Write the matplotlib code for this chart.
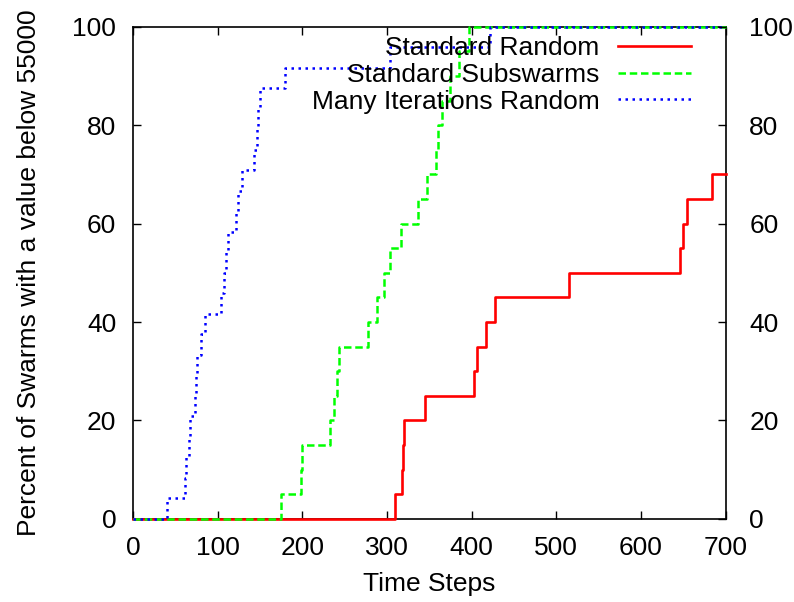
import matplotlib
matplotlib.use("Agg")
import matplotlib.pyplot as plt

plt.rcParams['font.family'] = ['Liberation Sans', 'DejaVu Sans']

# time step at which each swarm got below 55000, and the running percentage
red_t = [310, 318, 319, 320, 345, 403, 406, 417, 428, 515, 646, 649, 654, 684]
red_pct = [5, 10, 15, 20, 25, 30, 35, 40, 45, 50, 55, 60, 65, 70]

green_t = [175, 199, 200, 233, 237, 241, 243, 277, 288, 297, 303, 316, 336, 347,
           358, 360, 365, 374, 385, 397]
green_pct = [5, 10, 15, 20, 25, 30, 35, 40, 45, 50, 55, 60, 65, 70,
             75, 80, 85, 90, 95, 100]

blue_t = [40, 62, 63, 66, 67, 73, 74, 75, 80, 85, 104, 107, 110, 112, 122, 124,
          129, 143, 146, 148, 150, 179, 303, 422]
blue_pct = [4.17, 8.33, 12.5, 16.67, 20.83, 25, 29.17, 33.33, 37.5, 41.67, 45.83,
            50, 54.17, 58.33, 62.5, 66.67, 70.83, 75, 79.17, 83.33, 87.5, 91.67,
            95.83, 100]

labels = ['Standard Random', 'Standard Subswarms', 'Many Iterations Random']
x_max = 700

fig = plt.figure(figsize=(7.94, 6.02), dpi=100)
ax = fig.add_axes([0.1675, 0.138, 0.7465, 0.8175])

def steps(t, p):
    return [0] + t + [x_max], [0] + p + [p[-1]]

x, y = steps(red_t, red_pct)
ax.plot(x, y, drawstyle='steps-post', color='#ff0000', lw=1.9,
        label=labels[0], clip_on=False, zorder=3)
x, y = steps(green_t, green_pct)
ax.plot(x, y, drawstyle='steps-post', color='#00ff00', lw=1.8,
        dashes=(3, 1.5), label=labels[1], clip_on=False, zorder=4)
x, y = steps(blue_t, blue_pct)
ax.plot(x, y, drawstyle='steps-post', color='#0000ff', lw=1.8,
        dashes=(1, 1.8), label=labels[2], clip_on=False, zorder=5)

ax.set_xlim(0, x_max)
ax.set_ylim(0, 100)
ax.set_xticks(range(0, 701, 100))
ax.set_yticks(range(0, 101, 20))
ax.tick_params(direction='in', top=True, right=True, labelright=False,
               length=6, width=1, labelsize=19, pad=12)
for s in ax.spines.values():
    s.set_linewidth(1.2)

# right hand labels sit a bit further out
ax2 = ax.twinx()
ax2.set_ylim(0, 100)
ax2.set_yticks(range(0, 101, 20))
ax2.tick_params(direction='in', length=6, width=1, labelsize=19, pad=17)
for s in ax2.spines.values():
    s.set_visible(False)

ax.set_xlabel('Time Steps', fontsize=19, labelpad=9)
ax.set_ylabel('Percent of Swarms with a value below 55000', fontsize=19, labelpad=23)

ax.legend(loc='upper right', frameon=False, markerfirst=False, fontsize=19,
          handlelength=2.75, handletextpad=0.7, labelspacing=0.1,
          borderaxespad=0.3, bbox_to_anchor=(0.972, 1.018))

fig.savefig('out.png', dpi=100)
